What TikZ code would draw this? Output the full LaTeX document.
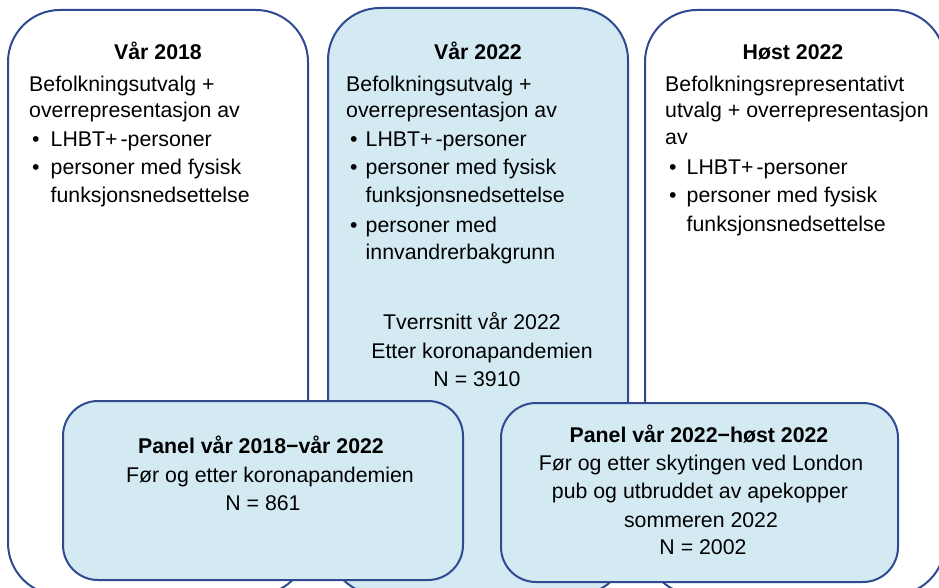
\documentclass[tikz,border=0pt]{standalone}
\usepackage{fontspec}
\setmainfont{Liberation Sans}
\definecolor{bordc}{HTML}{2F4A91}
\definecolor{fillc}{HTML}{D3EAF3}
\begin{document}
\begin{tikzpicture}[x=1pt,y=-1pt,
  bigbox/.style={rectangle, draw=bordc, line width=2pt, rounded corners=52pt, inner sep=0pt},
  panelbox/.style={rectangle, draw=bordc, fill=fillc, line width=2pt, rounded corners=35pt, inner sep=0pt},
  txt/.style={font=\fontsize{21.3}{26}\selectfont, inner sep=0pt, anchor=base west},
  ctxt/.style={font=\fontsize{21.3}{26}\selectfont, inner sep=0pt, anchor=base},
  ttl/.style={font=\fontsize{21.3}{26}\selectfont\bfseries, inner sep=0pt, anchor=base},
]
\useasboundingbox (0,0) rectangle (939,588);
\begin{scope}
\clip (0,0) rectangle (939,588);
% big boxes
\node[bigbox, fill=white, minimum width=300pt, minimum height=585pt] (b1) at (158,302.5) {};
\node[bigbox, fill=fillc, minimum width=300pt, minimum height=587pt] (b2) at (478,301.5) {};
\node[bigbox, fill=white, minimum width=300pt, minimum height=585pt] (b3) at (795,302.5) {};

% left box text
\node[ttl] (t1) at (158,60) {Vår 2018};
\node[txt] (l1a) at (29,92) {Befolkningsutvalg +};
\node[txt] (l1b) at (29,118) {overrepresentasjon av};
\node[txt] (u1a) at (32,147) {•};
\node[txt] (l1c) at (50.5,147) {LHBT+\kern3pt-personer};
\node[txt] (u1b) at (32,175) {•};
\node[txt] (l1d) at (50.5,175) {personer med fysisk};
\node[txt] (l1e) at (50.5,203) {funksjonsnedsettelse};

% middle box text
\node[ttl] (t2) at (478,60) {Vår 2022};
\node[txt] (l2a) at (346,92) {Befolkningsutvalg +};
\node[txt] (l2b) at (346,118) {overrepresentasjon av};
\node[txt] (u2a) at (350,147) {•};
\node[txt] (l2c) at (365.5,147) {LHBT+\kern3pt-personer};
\node[txt] (u2b) at (350,175) {•};
\node[txt] (l2d) at (365.5,175) {personer med fysisk};
\node[txt] (l2e) at (365.5,203) {funksjonsnedsettelse};
\node[txt] (u2c) at (350,232) {•};
\node[txt] (l2f) at (365.5,232) {personer med};
\node[txt] (l2g) at (365.5,259) {innvandrerbakgrunn};
\node[ctxt] (c2a) at (472,329) {Tverrsnitt vår 2022};
\node[ctxt] (c2b) at (482,358) {Etter koronapandemien};
\node[ctxt] (c2c) at (477,386) {N = 3910};

% right box text
\node[ttl] (t3) at (793,60) {Høst 2022};
\node[txt] (l3a) at (665,92) {Befolkningsrepresentativt};
\node[txt] (l3b) at (665,118) {utvalg + overrepresentasjon};
\node[txt] (l3c) at (665,145) {av};
\node[txt] (u3a) at (669,175) {•};
\node[txt] (l3d) at (686.5,175) {LHBT+\kern3pt-personer};
\node[txt] (u3b) at (669,203) {•};
\node[txt] (l3e) at (686.5,203) {personer med fysisk};
\node[txt] (l3f) at (686.5,231) {funksjonsnedsettelse};

% panels
\node[panelbox, minimum width=400pt, minimum height=179pt] (p1) at (263,490.5) {};
\node[panelbox, minimum width=397pt, minimum height=179pt] (p2) at (699.5,492.5) {};

\node[ttl] (p1t) at (261,453) {Panel vår 2018−vår 2022};
\node[ctxt] (p1a) at (270,482) {Før og etter koronapandemien};
\node[ctxt] (p1b) at (263,510) {N = 861};

\node[ttl] (p2t) at (699,442) {Panel vår 2022−høst 2022};
\node[ctxt] (p2a) at (701,470) {Før og etter skytingen ved London};
\node[ctxt] (p2b) at (700,498) {pub og utbruddet av apekopper};
\node[ctxt] (p2c) at (701,527) {sommeren 2022};
\node[ctxt] (p2d) at (703,554) {N = 2002};
\end{scope}
\end{tikzpicture}
\end{document}
